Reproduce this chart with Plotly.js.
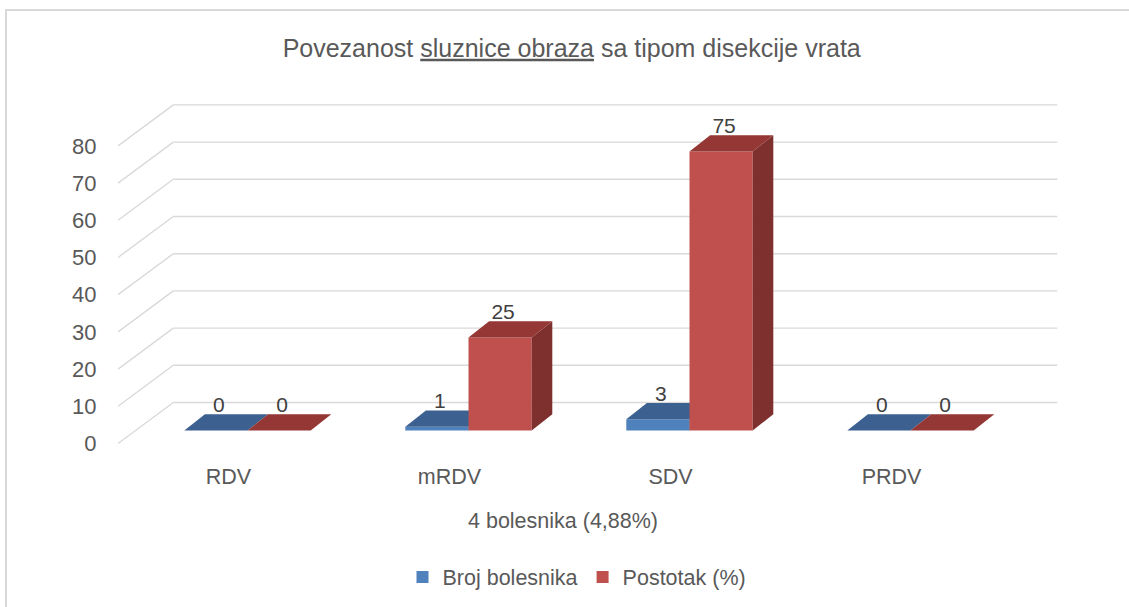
<!DOCTYPE html>
<html>
<head>
<meta charset="utf-8">
<script src="https://cdn.plot.ly/plotly-3.0.1.min.js"></script>
<style>
  html, body { margin: 0; padding: 0; background: #ffffff; overflow: hidden; }
  #chart { position: absolute; left: 0; top: 0; width: 1129px; height: 607px; }
  #frame { position: absolute; left: 5px; top: 9px; width: 1140px; height: 640px;
           border: 2px solid #d9d9d9; pointer-events: none; }
</style>
</head>
<body>
<div id="chart"></div>
<div id="frame"></div>
<script>
// ---------------- data ----------------
const categories = ['RDV', 'mRDV', 'SDV', 'PRDV'];
const brojBolesnika = [0, 1, 3, 0];
const postotak = [0, 25, 75, 0];
const seriesNames = ['Broj bolesnika', 'Postotak (%)'];
const yTickValues = [0, 10, 20, 30, 40, 50, 60, 70, 80];
const yTickLabels = ['0', '10', '20', '30', '40', '50', '60', '70', '80'];
const chartTitle = 'Povezanost <u>sluznice obraza</u> sa tipom disekcije vrata';
const axisCaption = '4 bolesnika (4,88%)';

// ---------------- style / geometry (pixels) ----------------
const W = 1129, H = 607;
const PLOT_L = 118, PLOT_R = 1069, PLOT_T = 95, PLOT_B = 455;
const FLOOR_Y = 443.5;          // pixel row of value 0 on the front plane
const PX_PER_CAT = 221;         // pixels per category slot
const PX_PER_UNIT = 3.72;       // pixels per value unit
const WALL_DX = 55.3, WALL_DY = 41;   // depth of the walls
const BAR_BASE_DY = 13;         // bar front plane above floor front
const BAR_DX = 20.6, BAR_DY = 16.3;   // bar depth
const BAR_W = 63.2;
const BAR_OFF = [-44.2, 19];    // left edge of each series' bar from category centre
const LABEL_DROP = 3;           // data label nudge (px)
const FONT = 'Liberation Sans, Arial, sans-serif';
const TXT = '#595959';
const COLORS = {
  front: ['#4F81BD', '#C0504D'],
  top:   ['#3C6191', '#943735'],
  side:  ['#3A5F8C', '#7E302E']
};

const cx = px => px / PX_PER_CAT;
const cy = px => px / PX_PER_UNIT;

const xRange = [0, cx(PLOT_R - PLOT_L)];
const yRange = [-cy(PLOT_B - FLOOR_Y), cy(FLOOR_Y - PLOT_T)];

const centers = categories.map((c, i) => i + 0.5);
const seriesValues = [brojBolesnika, postotak];

const traces = [];

// grid: back wall lines and side wall diagonals
(function () {
  const gx = [], gy = [];
  const n = categories.length;
  yTickValues.forEach(t => {
    gx.push(cx(WALL_DX), n + cx(WALL_DX), null);
    gy.push(t + cy(WALL_DY), t + cy(WALL_DY), null);
    gx.push(0, cx(WALL_DX), null);
    gy.push(t, t + cy(WALL_DY), null);
  });
  traces.push({
    type: 'scatter', mode: 'lines', x: gx, y: gy,
    line: { color: '#d9d9d9', width: 1.4 },
    hoverinfo: 'skip', showlegend: false, xaxis: 'x', yaxis: 'y'
  });
})();

const labelX = [], labelY = [], labelT = [];

seriesValues.forEach((vals, s) => {
  const xa = s === 0 ? 'x' : 'x2';
  const ya = s === 0 ? 'y' : 'y2';
  const base = cy(BAR_BASE_DY);
  const off = cx(BAR_OFF[s]);
  const w = cx(BAR_W);
  const dx = cx(BAR_DX), dy = cy(BAR_DY);

  // front faces (real bars)
  traces.push({
    type: 'bar', name: seriesNames[s], x: centers, y: vals, base: base,
    offset: off, width: w,
    marker: { color: COLORS.front[s], line: { width: 0 } },
    hoverinfo: 'skip', xaxis: xa, yaxis: ya, showlegend: true,
    legendrank: s + 1
  });

  const sx = [], sy = [], tx = [], ty = [];
  vals.forEach((v, i) => {
    const xl = centers[i] + off, xr = xl + w;
    const b = base, t = base + v;
    // side face
    sx.push(xr, xr, xr + dx, xr + dx, xr, null);
    sy.push(b, t, t + dy, b + dy, b, null);
    // top face
    tx.push(xl, xr, xr + dx, xl + dx, xl, null);
    ty.push(t, t, t + dy, t + dy, t, null);
    labelX.push(xl + w / 2 + cx(3));
    labelY.push(t + dy - cy(LABEL_DROP));
    labelT.push(String(v));
  });
  traces.push({
    type: 'scatter', mode: 'none', x: sx, y: sy, fill: 'toself',
    fillcolor: COLORS.side[s], hoverinfo: 'skip', showlegend: false,
    xaxis: xa, yaxis: ya
  });
  traces.push({
    type: 'scatter', mode: 'none', x: tx, y: ty, fill: 'toself',
    fillcolor: COLORS.top[s], hoverinfo: 'skip', showlegend: false,
    xaxis: xa, yaxis: ya
  });
});

// data labels
traces.push({
  type: 'scatter', mode: 'text', x: labelX, y: labelY, text: labelT,
  textposition: 'top center', cliponaxis: false,
  textfont: { family: FONT, size: 21, color: '#404040' },
  hoverinfo: 'skip', showlegend: false, xaxis: 'x2', yaxis: 'y2'
});

const layout = {
  width: W, height: H,
  paper_bgcolor: '#ffffff', plot_bgcolor: 'rgba(0,0,0,0)',
  margin: { l: PLOT_L, r: W - PLOT_R, t: PLOT_T, b: H - PLOT_B, pad: 0 },
  font: { family: FONT, color: TXT },
  title: {
    text: chartTitle,
    font: { family: FONT, size: 25, color: TXT },
    xref: 'container', yref: 'container',
    x: 571.7 / W, xanchor: 'center', y: 1 - 48 / H, yanchor: 'middle'
  },
  xaxis: {
    range: xRange, fixedrange: true, showgrid: false, zeroline: false, showline: false,
    tickmode: 'array', tickvals: centers, ticktext: categories,
    ticks: 'outside', ticklen: 2, tickcolor: 'rgba(0,0,0,0)',
    tickfont: { family: FONT, size: 21.5, color: TXT }
  },
  yaxis: {
    range: yRange, fixedrange: true, showgrid: false, zeroline: false, showline: false,
    tickmode: 'array', tickvals: yTickValues, ticktext: yTickLabels,
    ticks: 'outside', ticklen: 16, tickcolor: 'rgba(0,0,0,0)',
    tickfont: { family: FONT, size: 22, color: TXT }
  },
  xaxis2: { range: xRange, overlaying: 'x', visible: false, fixedrange: true },
  yaxis2: { range: yRange, overlaying: 'y', visible: false, fixedrange: true },
  barmode: 'overlay',
  showlegend: true,
  legend: {
    orientation: 'h', xref: 'container', yref: 'container',
    x: 577 / W, xanchor: 'center', y: 1 - 577 / H, yanchor: 'middle',
    font: { family: FONT, size: 21.5, color: TXT },
    bgcolor: 'rgba(0,0,0,0)', traceorder: 'normal'
  },
  annotations: [{
    text: axisCaption, showarrow: false,
    xref: 'paper', yref: 'paper',
    x: (562.5 - PLOT_L) / (PLOT_R - PLOT_L), xanchor: 'center',
    y: (PLOT_B - 521) / (PLOT_B - PLOT_T), yanchor: 'middle',
    font: { family: FONT, size: 21.5, color: TXT }
  }]
};

Plotly.newPlot('chart', traces, layout, { staticPlot: true, displayModeBar: false });
</script>
</body>
</html>
